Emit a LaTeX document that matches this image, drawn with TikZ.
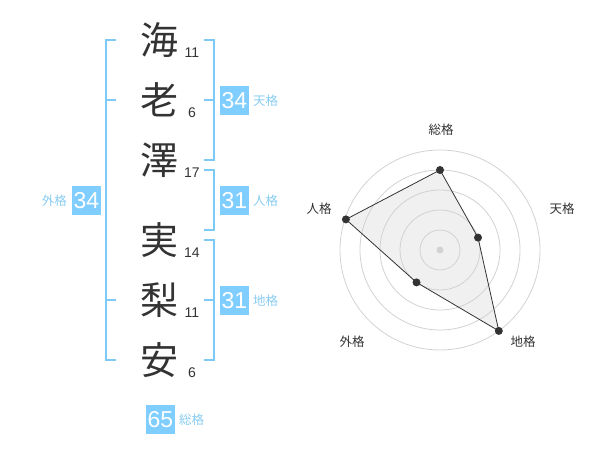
\documentclass[tikz,border=0pt]{standalone}
\usepackage{fontspec}
\setmainfont{Liberation Sans}
\newfontfamily\cjk{Noto Sans CJK JP}
\definecolor{brk}{RGB}{125,202,247}
\definecolor{boxc}{RGB}{128,206,255}
\definecolor{lblc}{RGB}{136,204,240}
\definecolor{ink}{RGB}{51,51,51}
\definecolor{ringc}{RGB}{210,210,210}
\definecolor{polyfill}{RGB}{240,240,240}
\tikzset{
  kanji/.style={font=\cjk\fontsize{38}{38}\selectfont, text=ink, inner sep=0pt},
  strokes/.style={font=\fontsize{14}{14}\selectfont, text=ink, inner sep=0pt},
  brack/.style={draw=brk, line width=2pt},
  numbox/.style={fill=boxc, text=white, minimum width=29pt, minimum height=29pt, inner sep=0pt, font=\fontsize{23}{23}\selectfont},
  kaku/.style={font=\cjk\fontsize{12.5}{12.5}\selectfont, text=lblc, inner sep=0pt},
  ring/.style={draw=ringc, line width=0.8pt},
  radlbl/.style={font=\cjk\fontsize{12.5}{12.5}\selectfont, text=ink, inner sep=0pt},
  vdot/.style={circle, fill=ink, minimum size=8pt, inner sep=0pt},
}
\begin{document}
\begin{tikzpicture}[x=1pt,y=-1pt]
\useasboundingbox (0,0) rectangle (600,470);
% characters
\node[kanji] (c1) at (159,40) {海};
\node[kanji] (c2) at (159,100) {老};
\node[kanji] (c3) at (159,160) {澤};
\node[kanji] (c4) at (159,240) {実};
\node[kanji] (c5) at (159,300) {梨};
\node[kanji] (c6) at (159,360) {安};
\node[strokes] (s1) at (192,53) {11};
\node[strokes] (s2) at (192,113) {6};
\node[strokes] (s3) at (192,173) {17};
\node[strokes] (s4) at (192,253) {14};
\node[strokes] (s5) at (192,313) {11};
\node[strokes] (s6) at (192,373) {6};
% left bracket (gaikaku)
\draw[brack] (116,40) -- (106,40) -- (106,360) -- (116,360);
\draw[brack] (106,100) -- (116,100);
\draw[brack] (106,300) -- (116,300);
% right brackets
\draw[brack] (204,40) -- (214,40) -- (214,160) -- (204,160);
\draw[brack] (204,100) -- (214,100);
\draw[brack] (204,170) -- (214,170) -- (214,230) -- (204,230);
\draw[brack] (204,240) -- (214,240) -- (214,360) -- (204,360);
\draw[brack] (204,300) -- (214,300);
% boxes
\node[numbox] (ten) at (234.5,100.5) {34};
\node[kaku, anchor=west] (tenl) at (253,101) {天格};
\node[numbox] (jin) at (234.5,200.5) {31};
\node[kaku, anchor=west] (jinl) at (253,201) {人格};
\node[numbox] (chi) at (234.5,300.5) {31};
\node[kaku, anchor=west] (chil) at (253,301) {地格};
\node[numbox] (gai) at (86.5,200.5) {34};
\node[kaku, anchor=east] (gail) at (67,201) {外格};
\node[numbox] (sou) at (160.5,419.5) {65};
\node[kaku, anchor=west] (soul) at (179,420) {総格};
% radar chart
\coordinate (O) at (440,250);
\coordinate (p1) at (440,170);
\coordinate (p2) at (478.0,237.6);
\coordinate (p3) at (498.8,330.9);
\coordinate (p4) at (416.5,282.4);
\coordinate (p5) at (345.9,219.4);
\fill[polyfill] (p1) -- (p2) -- (p3) -- (p4) -- (p5) -- cycle;
\foreach \r in {20,40,60,80,100} { \draw[ring] (O) circle (\r); }
\fill[ringc] (O) circle (3.5);
\draw[ink, line width=0.8pt] (p1) -- (p2) -- (p3) -- (p4) -- (p5) -- cycle;
\node[vdot] (d1) at (p1) {};
\node[vdot] (d2) at (p2) {};
\node[vdot] (d3) at (p3) {};
\node[vdot] (d4) at (p4) {};
\node[vdot] (d5) at (p5) {};
\node[radlbl] (ls) at (441,130) {総格};
\node[radlbl] (lt) at (562,209) {天格};
\node[radlbl] (lc) at (523,342) {地格};
\node[radlbl] (lg) at (352,342) {外格};
\node[radlbl] (lj) at (319,209) {人格};
\end{tikzpicture}
\end{document}
